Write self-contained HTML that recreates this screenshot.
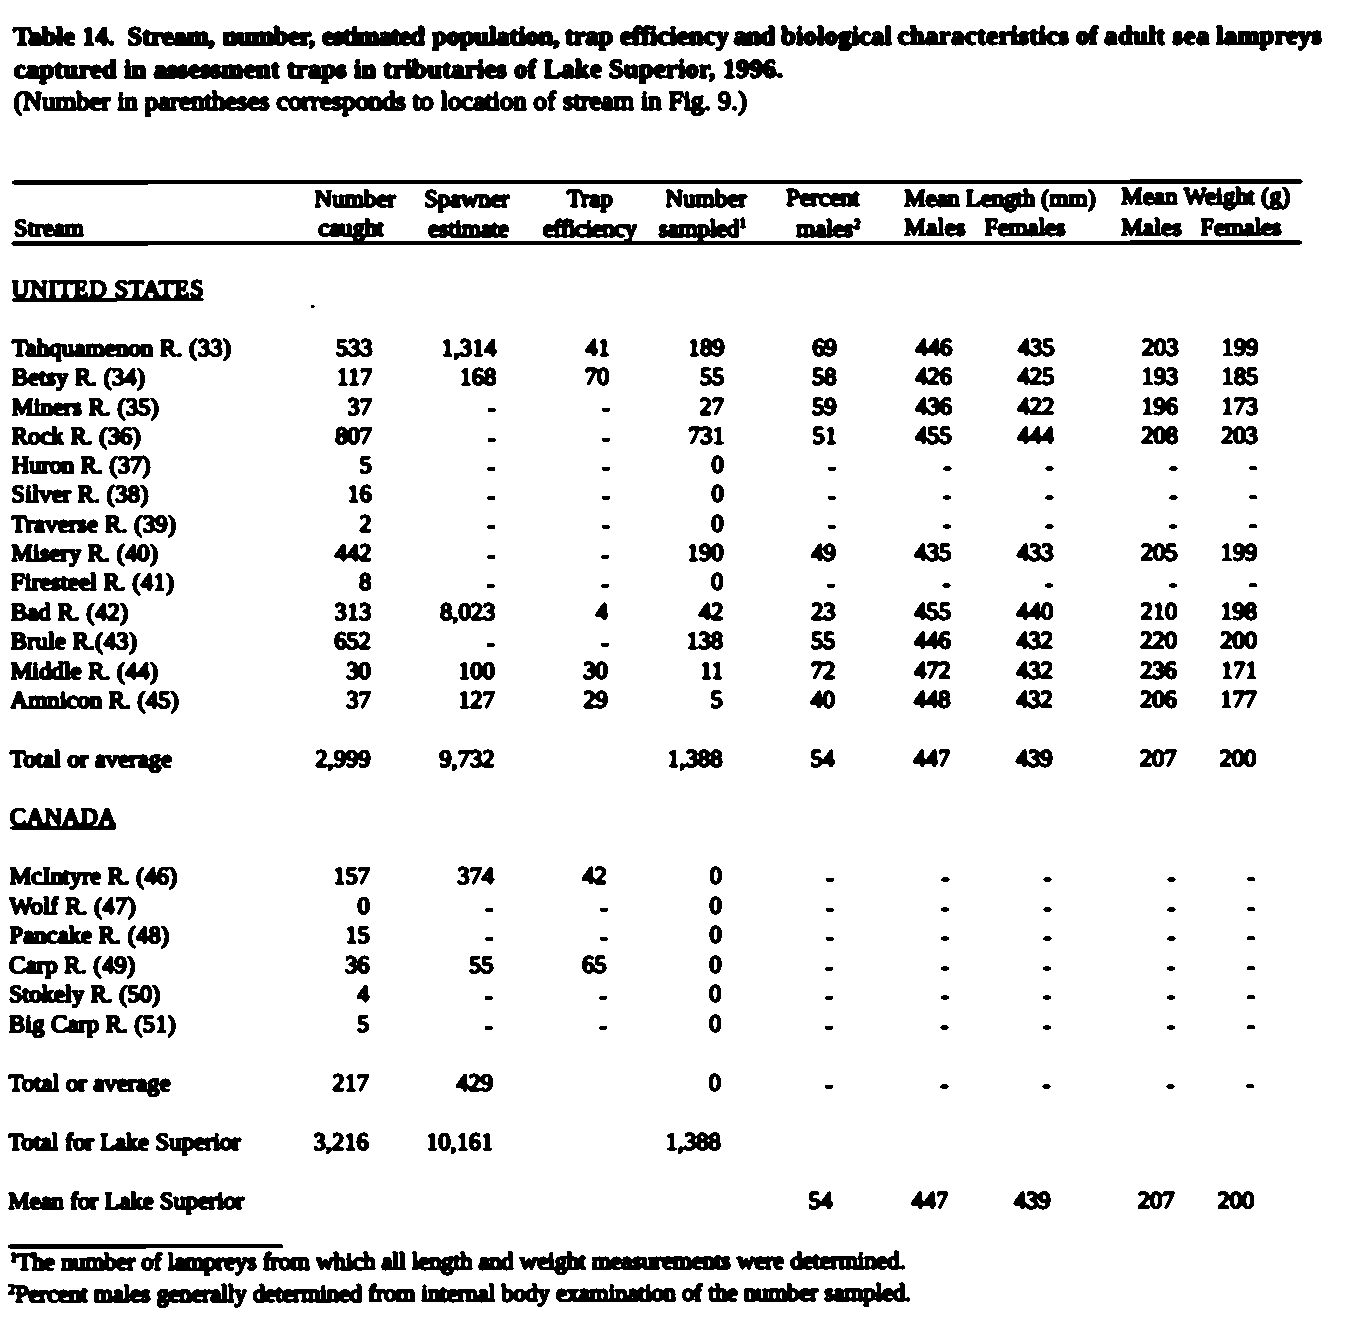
<!DOCTYPE html>
<html><head><meta charset="utf-8"><title>Table 14</title>
<style>
html,body{margin:0;padding:0;background:#fff;}
body{width:1367px;height:1337px;overflow:hidden;position:relative;}
#wrap{position:absolute;left:0;top:0;width:1367px;height:1337px;background:#fff;filter:url(#scan);overflow:hidden;}
#pg{position:absolute;left:0;top:0;width:1367px;height:1337px;transform-origin:0 0;transform:matrix(1,-0.0007,-0.0047,1,0,0);}
.x{position:absolute;white-space:pre;line-height:1;font-family:"Liberation Serif",serif;color:#000;}
.b{font-weight:normal;-webkit-text-stroke:1.1px #000;}
.t{font-weight:bold;-webkit-text-stroke:0.85px #000;}
.t3{font-weight:normal;-webkit-text-stroke:1.2px #000;}
sup{font-size:0.58em;line-height:0;vertical-align:baseline;position:relative;top:-0.58em;-webkit-text-stroke-width:1.1px;}
.rule{position:absolute;background:#000;}
</style></head>
<body><svg width="0" height="0" style="position:absolute"><filter id="scan" x="0" y="0" width="100%" height="100%" color-interpolation-filters="sRGB"><feGaussianBlur stdDeviation="0.9"/><feComponentTransfer><feFuncR type="discrete" tableValues="0 0 0 0 0 0 0 1 1 1"/><feFuncG type="discrete" tableValues="0 0 0 0 0 0 0 1 1 1"/><feFuncB type="discrete" tableValues="0 0 0 0 0 0 0 1 1 1"/></feComponentTransfer></filter></svg><div id="wrap"><div id="pg">
<div id="i0" class="x t" style="top:23.39px;font-size:26.5px;letter-spacing:-0.013px;left:13.14px;">Table</div>
<div id="i1" class="x t" style="top:23.37px;font-size:26.5px;letter-spacing:-0.108px;left:82.14px;">14.</div>
<div id="i2" class="x t" style="top:23.36px;font-size:26.5px;letter-spacing:-0.109px;left:127.54px;">Stream,</div>
<div id="i3" class="x t" style="top:23.33px;font-size:26.5px;letter-spacing:-0.218px;left:222.84px;">number,</div>
<div id="i4" class="x t" style="top:23.30px;font-size:26.5px;letter-spacing:-0.752px;left:322.24px;">estimated</div>
<div id="i5" class="x t" style="top:23.26px;font-size:26.5px;letter-spacing:-0.098px;left:432.14px;">population,</div>
<div id="i6" class="x t" style="top:23.22px;font-size:26.5px;letter-spacing:-0.023px;left:565.04px;">trap</div>
<div id="i7" class="x t" style="top:23.21px;font-size:26.5px;letter-spacing:0.199px;left:619.94px;">efficiency</div>
<div id="i8" class="x t" style="top:23.17px;font-size:26.5px;letter-spacing:-0.563px;left:733.84px;">and</div>
<div id="i9" class="x t" style="top:23.16px;font-size:26.5px;letter-spacing:0.206px;left:781.24px;">biological</div>
<div id="i10" class="x t" style="top:23.12px;font-size:26.5px;letter-spacing:0.457px;left:897.84px;">characteristics</div>
<div id="i11" class="x t" style="top:23.07px;font-size:26.5px;letter-spacing:0.031px;left:1075.94px;">of</div>
<div id="i12" class="x t" style="top:23.06px;font-size:26.5px;letter-spacing:0.497px;left:1104.44px;">adult</div>
<div id="i13" class="x t" style="top:23.04px;font-size:26.5px;letter-spacing:0.790px;left:1172.74px;">sea</div>
<div id="i14" class="x t" style="top:23.03px;font-size:26.5px;letter-spacing:0.252px;left:1216.24px;">lampreys</div>
<div id="i15" class="x t" style="top:56.19px;font-size:26.5px;letter-spacing:0.268px;left:14.20px;">captured in assessment traps in tributaries of Lake Superior, 1996.</div>
<div id="i16" class="x t3" style="top:88.42px;font-size:26.5px;letter-spacing:0.131px;left:14.32px;">(Number in parentheses corresponds to location of stream in Fig. 9.)</div>
<div id="i17" class="x b" style="top:216.44px;font-size:24.5px;letter-spacing:0.073px;left:15.17px;">Stream</div>
<div id="i18" class="x b" style="top:186.95px;font-size:24.5px;letter-spacing:0.235px;left:315.23px;">Number</div>
<div id="i19" class="x b" style="top:216.45px;font-size:24.5px;letter-spacing:0.052px;left:319.37px;">caught</div>
<div id="i20" class="x b" style="top:186.83px;font-size:24.5px;letter-spacing:-0.060px;left:425.13px;">Spawner</div>
<div id="i21" class="x b" style="top:216.53px;font-size:24.5px;letter-spacing:-0.081px;left:429.27px;">estimate</div>
<div id="i22" class="x b" style="top:186.73px;font-size:24.5px;letter-spacing:0.227px;left:567.63px;">Trap</div>
<div id="i23" class="x b" style="top:216.61px;font-size:24.5px;letter-spacing:-0.381px;left:543.97px;">efficiency</div>
<div id="i24" class="x b" style="top:187.30px;font-size:24.5px;letter-spacing:0.255px;left:666.13px;">Number</div>
<div id="i25" class="x b" style="top:216.69px;font-size:24.5px;letter-spacing:-0.131px;left:659.57px;">sampled<sup>1</sup></div>
<div id="i26" class="x b" style="top:186.38px;font-size:24.5px;letter-spacing:0.017px;left:787.03px;">Percent</div>
<div id="i27" class="x b" style="top:216.79px;font-size:24.5px;letter-spacing:0.004px;left:797.37px;">males<sup>2</sup></div>
<div id="i28" class="x b" style="top:186.76px;font-size:24.5px;letter-spacing:-0.020px;left:905.03px;">Mean Length (mm)</div>
<div id="i29" class="x b" style="top:216.06px;font-size:24.5px;letter-spacing:0.375px;left:905.16px;">Males</div>
<div id="i30" class="x b" style="top:216.12px;font-size:24.5px;letter-spacing:-0.064px;left:985.36px;">Females</div>
<div id="i31" class="x b" style="top:185.12px;font-size:24.5px;letter-spacing:0.204px;left:1122.02px;">Mean Weight (g)</div>
<div id="i32" class="x b" style="top:215.92px;font-size:24.5px;letter-spacing:0.250px;left:1122.16px;">Males</div>
<div id="i33" class="x b" style="top:215.97px;font-size:24.5px;letter-spacing:-0.064px;left:1201.46px;">Females</div>
<div id="i34" class="x b" style="top:276.91px;font-size:24.5px;letter-spacing:0.809px;left:12.85px;">UNITED STATES</div>
<div class="rule" style="left:12.90px;top:298.97px;width:192.20px;height:2.0px"></div>
<div id="i35" class="x b" style="top:804.96px;font-size:24.5px;letter-spacing:0.272px;left:13.65px;">CANADA</div>
<div class="rule" style="left:13.70px;top:827.02px;width:106.20px;height:2.0px"></div>
<div id="i36" class="x b" style="top:336.01px;font-size:24.5px;letter-spacing:0.278px;left:13.65px;">Tahquamenon R. (33)</div>
<div id="i37" class="x b" style="top:336.00px;font-size:24.5px;right:992.95px;">533</div>
<div id="i38" class="x b" style="top:336.00px;font-size:24.5px;right:868.95px;">1,314</div>
<div id="i39" class="x b" style="top:336.00px;font-size:24.5px;right:755.35px;">41</div>
<div id="i40" class="x b" style="top:336.00px;font-size:24.5px;right:640.95px;">189</div>
<div id="i41" class="x b" style="top:336.00px;font-size:24.5px;right:528.65px;">69</div>
<div id="i42" class="x b" style="top:336.00px;font-size:24.5px;right:413.15px;">446</div>
<div id="i43" class="x b" style="top:336.00px;font-size:24.5px;right:310.85px;">435</div>
<div id="i44" class="x b" style="top:336.00px;font-size:24.5px;right:186.95px;">203</div>
<div id="i45" class="x b" style="top:336.00px;font-size:24.5px;right:107.05px;">199</div>
<div id="i46" class="x b" style="top:365.28px;font-size:24.5px;letter-spacing:0.152px;left:13.65px;">Betsy R. (34)</div>
<div id="i47" class="x b" style="top:365.27px;font-size:24.5px;right:992.95px;">117</div>
<div id="i48" class="x b" style="top:365.27px;font-size:24.5px;right:868.95px;">168</div>
<div id="i49" class="x b" style="top:365.27px;font-size:24.5px;right:756.05px;">70</div>
<div id="i50" class="x b" style="top:365.27px;font-size:24.5px;right:640.95px;">55</div>
<div id="i51" class="x b" style="top:365.27px;font-size:24.5px;right:528.65px;">58</div>
<div id="i52" class="x b" style="top:365.27px;font-size:24.5px;right:413.15px;">426</div>
<div id="i53" class="x b" style="top:365.27px;font-size:24.5px;right:310.85px;">425</div>
<div id="i54" class="x b" style="top:365.27px;font-size:24.5px;right:186.95px;">193</div>
<div id="i55" class="x b" style="top:365.27px;font-size:24.5px;right:107.05px;">185</div>
<div id="i56" class="x b" style="top:394.56px;font-size:24.5px;letter-spacing:0.163px;left:13.65px;">Miners R. (35)</div>
<div id="i57" class="x b" style="top:394.55px;font-size:24.5px;right:992.95px;">37</div>
<div id="i58" class="x b" style="top:396.25px;font-size:24.5px;right:869.24px;">-</div>
<div id="i59" class="x b" style="top:396.25px;font-size:24.5px;right:754.84px;">-</div>
<div id="i60" class="x b" style="top:394.55px;font-size:24.5px;right:640.95px;">27</div>
<div id="i61" class="x b" style="top:394.55px;font-size:24.5px;right:528.65px;">59</div>
<div id="i62" class="x b" style="top:394.55px;font-size:24.5px;right:413.15px;">436</div>
<div id="i63" class="x b" style="top:394.55px;font-size:24.5px;right:310.85px;">422</div>
<div id="i64" class="x b" style="top:394.55px;font-size:24.5px;right:186.95px;">196</div>
<div id="i65" class="x b" style="top:394.55px;font-size:24.5px;right:107.05px;">173</div>
<div id="i66" class="x b" style="top:423.85px;font-size:24.5px;letter-spacing:0.166px;left:13.65px;">Rock R. (36)</div>
<div id="i67" class="x b" style="top:423.84px;font-size:24.5px;right:992.95px;">807</div>
<div id="i68" class="x b" style="top:425.54px;font-size:24.5px;right:869.24px;">-</div>
<div id="i69" class="x b" style="top:425.54px;font-size:24.5px;right:754.84px;">-</div>
<div id="i70" class="x b" style="top:423.84px;font-size:24.5px;right:640.25px;">731</div>
<div id="i71" class="x b" style="top:423.84px;font-size:24.5px;right:527.95px;">51</div>
<div id="i72" class="x b" style="top:423.84px;font-size:24.5px;right:413.15px;">455</div>
<div id="i73" class="x b" style="top:423.84px;font-size:24.5px;right:310.85px;">444</div>
<div id="i74" class="x b" style="top:423.84px;font-size:24.5px;right:186.95px;">208</div>
<div id="i75" class="x b" style="top:423.84px;font-size:24.5px;right:107.05px;">203</div>
<div id="i76" class="x b" style="top:453.15px;font-size:24.5px;letter-spacing:0.078px;left:13.65px;">Huron R. (37)</div>
<div id="i77" class="x b" style="top:453.14px;font-size:24.5px;right:992.95px;">5</div>
<div id="i78" class="x b" style="top:454.84px;font-size:24.5px;right:869.24px;">-</div>
<div id="i79" class="x b" style="top:454.84px;font-size:24.5px;right:754.84px;">-</div>
<div id="i80" class="x b" style="top:453.14px;font-size:24.5px;right:640.95px;">0</div>
<div id="i81" class="x b" style="top:454.84px;font-size:24.5px;right:528.94px;">-</div>
<div id="i82" class="x b" style="top:454.84px;font-size:24.5px;right:413.44px;">-</div>
<div id="i83" class="x b" style="top:454.84px;font-size:24.5px;right:311.14px;">-</div>
<div id="i84" class="x b" style="top:454.84px;font-size:24.5px;right:187.24px;">-</div>
<div id="i85" class="x b" style="top:454.84px;font-size:24.5px;right:107.34px;">-</div>
<div id="i86" class="x b" style="top:482.46px;font-size:24.5px;letter-spacing:0.235px;left:13.65px;">Silver R. (38)</div>
<div id="i87" class="x b" style="top:482.45px;font-size:24.5px;right:992.95px;">16</div>
<div id="i88" class="x b" style="top:484.15px;font-size:24.5px;right:869.24px;">-</div>
<div id="i89" class="x b" style="top:484.15px;font-size:24.5px;right:754.84px;">-</div>
<div id="i90" class="x b" style="top:482.45px;font-size:24.5px;right:640.95px;">0</div>
<div id="i91" class="x b" style="top:484.15px;font-size:24.5px;right:528.94px;">-</div>
<div id="i92" class="x b" style="top:484.15px;font-size:24.5px;right:413.44px;">-</div>
<div id="i93" class="x b" style="top:484.15px;font-size:24.5px;right:311.14px;">-</div>
<div id="i94" class="x b" style="top:484.15px;font-size:24.5px;right:187.24px;">-</div>
<div id="i95" class="x b" style="top:484.15px;font-size:24.5px;right:107.34px;">-</div>
<div id="i96" class="x b" style="top:511.78px;font-size:24.5px;letter-spacing:0.297px;left:13.65px;">Traverse R. (39)</div>
<div id="i97" class="x b" style="top:511.77px;font-size:24.5px;right:992.95px;">2</div>
<div id="i98" class="x b" style="top:513.47px;font-size:24.5px;right:869.24px;">-</div>
<div id="i99" class="x b" style="top:513.47px;font-size:24.5px;right:754.84px;">-</div>
<div id="i100" class="x b" style="top:511.77px;font-size:24.5px;right:640.95px;">0</div>
<div id="i101" class="x b" style="top:513.47px;font-size:24.5px;right:528.94px;">-</div>
<div id="i102" class="x b" style="top:513.47px;font-size:24.5px;right:413.44px;">-</div>
<div id="i103" class="x b" style="top:513.47px;font-size:24.5px;right:311.14px;">-</div>
<div id="i104" class="x b" style="top:513.47px;font-size:24.5px;right:187.24px;">-</div>
<div id="i105" class="x b" style="top:513.47px;font-size:24.5px;right:107.34px;">-</div>
<div id="i106" class="x b" style="top:541.11px;font-size:24.5px;letter-spacing:0.150px;left:13.65px;">Misery R. (40)</div>
<div id="i107" class="x b" style="top:541.10px;font-size:24.5px;right:992.95px;">442</div>
<div id="i108" class="x b" style="top:542.80px;font-size:24.5px;right:869.24px;">-</div>
<div id="i109" class="x b" style="top:542.80px;font-size:24.5px;right:754.84px;">-</div>
<div id="i110" class="x b" style="top:541.10px;font-size:24.5px;right:640.95px;">190</div>
<div id="i111" class="x b" style="top:541.10px;font-size:24.5px;right:528.65px;">49</div>
<div id="i112" class="x b" style="top:541.10px;font-size:24.5px;right:413.15px;">435</div>
<div id="i113" class="x b" style="top:541.10px;font-size:24.5px;right:310.85px;">433</div>
<div id="i114" class="x b" style="top:541.10px;font-size:24.5px;right:186.95px;">205</div>
<div id="i115" class="x b" style="top:541.10px;font-size:24.5px;right:107.05px;">199</div>
<div id="i116" class="x b" style="top:570.45px;font-size:24.5px;letter-spacing:0.194px;left:13.65px;">Firesteel R. (41)</div>
<div id="i117" class="x b" style="top:570.44px;font-size:24.5px;right:992.95px;">8</div>
<div id="i118" class="x b" style="top:572.14px;font-size:24.5px;right:869.24px;">-</div>
<div id="i119" class="x b" style="top:572.14px;font-size:24.5px;right:754.84px;">-</div>
<div id="i120" class="x b" style="top:570.44px;font-size:24.5px;right:640.95px;">0</div>
<div id="i121" class="x b" style="top:572.14px;font-size:24.5px;right:528.94px;">-</div>
<div id="i122" class="x b" style="top:572.14px;font-size:24.5px;right:413.44px;">-</div>
<div id="i123" class="x b" style="top:572.14px;font-size:24.5px;right:311.14px;">-</div>
<div id="i124" class="x b" style="top:572.14px;font-size:24.5px;right:187.24px;">-</div>
<div id="i125" class="x b" style="top:572.14px;font-size:24.5px;right:107.34px;">-</div>
<div id="i126" class="x b" style="top:599.80px;font-size:24.5px;letter-spacing:0.240px;left:13.65px;">Bad R. (42)</div>
<div id="i127" class="x b" style="top:599.79px;font-size:24.5px;right:992.95px;">313</div>
<div id="i128" class="x b" style="top:599.79px;font-size:24.5px;right:868.95px;">8,023</div>
<div id="i129" class="x b" style="top:599.79px;font-size:24.5px;right:756.05px;">4</div>
<div id="i130" class="x b" style="top:599.79px;font-size:24.5px;right:640.95px;">42</div>
<div id="i131" class="x b" style="top:599.79px;font-size:24.5px;right:528.65px;">23</div>
<div id="i132" class="x b" style="top:599.79px;font-size:24.5px;right:413.15px;">455</div>
<div id="i133" class="x b" style="top:599.79px;font-size:24.5px;right:310.85px;">440</div>
<div id="i134" class="x b" style="top:599.79px;font-size:24.5px;right:186.95px;">210</div>
<div id="i135" class="x b" style="top:599.79px;font-size:24.5px;right:107.05px;">198</div>
<div id="i136" class="x b" style="top:629.16px;font-size:24.5px;letter-spacing:0.214px;left:13.65px;">Brule R.(43)</div>
<div id="i137" class="x b" style="top:629.15px;font-size:24.5px;right:992.95px;">652</div>
<div id="i138" class="x b" style="top:630.85px;font-size:24.5px;right:869.24px;">-</div>
<div id="i139" class="x b" style="top:630.86px;font-size:24.5px;right:754.84px;">-</div>
<div id="i140" class="x b" style="top:629.15px;font-size:24.5px;right:640.95px;">138</div>
<div id="i141" class="x b" style="top:629.15px;font-size:24.5px;right:528.65px;">55</div>
<div id="i142" class="x b" style="top:629.15px;font-size:24.5px;right:413.15px;">446</div>
<div id="i143" class="x b" style="top:629.15px;font-size:24.5px;right:310.85px;">432</div>
<div id="i144" class="x b" style="top:629.15px;font-size:24.5px;right:186.95px;">220</div>
<div id="i145" class="x b" style="top:629.15px;font-size:24.5px;right:107.05px;">200</div>
<div id="i146" class="x b" style="top:658.53px;font-size:24.5px;letter-spacing:0.096px;left:13.65px;">Middle R. (44)</div>
<div id="i147" class="x b" style="top:658.53px;font-size:24.5px;right:992.95px;">30</div>
<div id="i148" class="x b" style="top:658.53px;font-size:24.5px;right:868.95px;">100</div>
<div id="i149" class="x b" style="top:658.53px;font-size:24.5px;right:756.05px;">30</div>
<div id="i150" class="x b" style="top:658.53px;font-size:24.5px;right:640.25px;">11</div>
<div id="i151" class="x b" style="top:658.53px;font-size:24.5px;right:528.65px;">72</div>
<div id="i152" class="x b" style="top:658.53px;font-size:24.5px;right:413.15px;">472</div>
<div id="i153" class="x b" style="top:658.53px;font-size:24.5px;right:310.85px;">432</div>
<div id="i154" class="x b" style="top:658.53px;font-size:24.5px;right:186.95px;">236</div>
<div id="i155" class="x b" style="top:658.53px;font-size:24.5px;right:106.35px;">171</div>
<div id="i156" class="x b" style="top:687.92px;font-size:24.5px;letter-spacing:0.121px;left:13.65px;">Amnicon R. (45)</div>
<div id="i157" class="x b" style="top:687.91px;font-size:24.5px;right:992.95px;">37</div>
<div id="i158" class="x b" style="top:687.91px;font-size:24.5px;right:868.95px;">127</div>
<div id="i159" class="x b" style="top:687.91px;font-size:24.5px;right:756.05px;">29</div>
<div id="i160" class="x b" style="top:687.91px;font-size:24.5px;right:640.95px;">5</div>
<div id="i161" class="x b" style="top:687.91px;font-size:24.5px;right:528.65px;">40</div>
<div id="i162" class="x b" style="top:687.91px;font-size:24.5px;right:413.15px;">448</div>
<div id="i163" class="x b" style="top:687.91px;font-size:24.5px;right:310.85px;">432</div>
<div id="i164" class="x b" style="top:687.91px;font-size:24.5px;right:186.95px;">206</div>
<div id="i165" class="x b" style="top:687.91px;font-size:24.5px;right:107.05px;">177</div>
<div id="i166" class="x b" style="top:746.72px;font-size:24.5px;letter-spacing:0.223px;left:13.65px;">Total or average</div>
<div id="i167" class="x b" style="top:746.71px;font-size:24.5px;right:992.95px;">2,999</div>
<div id="i168" class="x b" style="top:746.71px;font-size:24.5px;right:868.95px;">9,732</div>
<div id="i169" class="x b" style="top:746.71px;font-size:24.5px;right:640.95px;">1,388</div>
<div id="i170" class="x b" style="top:746.71px;font-size:24.5px;right:528.65px;">54</div>
<div id="i171" class="x b" style="top:746.71px;font-size:24.5px;right:413.15px;">447</div>
<div id="i172" class="x b" style="top:746.71px;font-size:24.5px;right:310.85px;">439</div>
<div id="i173" class="x b" style="top:746.71px;font-size:24.5px;right:186.95px;">207</div>
<div id="i174" class="x b" style="top:746.71px;font-size:24.5px;right:107.05px;">200</div>
<div id="i175" class="x b" style="top:864.44px;font-size:24.5px;letter-spacing:0.071px;left:13.65px;">McIntyre R. (46)</div>
<div id="i176" class="x b" style="top:864.43px;font-size:24.5px;right:992.95px;">157</div>
<div id="i177" class="x b" style="top:864.43px;font-size:24.5px;right:868.95px;">374</div>
<div id="i178" class="x b" style="top:864.43px;font-size:24.5px;right:756.05px;">42</div>
<div id="i179" class="x b" style="top:864.43px;font-size:24.5px;right:640.95px;">0</div>
<div id="i180" class="x b" style="top:866.13px;font-size:24.5px;right:528.94px;">-</div>
<div id="i181" class="x b" style="top:866.13px;font-size:24.5px;right:413.44px;">-</div>
<div id="i182" class="x b" style="top:866.13px;font-size:24.5px;right:311.14px;">-</div>
<div id="i183" class="x b" style="top:866.13px;font-size:24.5px;right:187.24px;">-</div>
<div id="i184" class="x b" style="top:866.13px;font-size:24.5px;right:107.34px;">-</div>
<div id="i185" class="x b" style="top:893.89px;font-size:24.5px;letter-spacing:0.214px;left:13.65px;">Wolf R. (47)</div>
<div id="i186" class="x b" style="top:893.89px;font-size:24.5px;right:992.95px;">0</div>
<div id="i187" class="x b" style="top:895.59px;font-size:24.5px;right:869.24px;">-</div>
<div id="i188" class="x b" style="top:895.59px;font-size:24.5px;right:754.84px;">-</div>
<div id="i189" class="x b" style="top:893.89px;font-size:24.5px;right:640.95px;">0</div>
<div id="i190" class="x b" style="top:895.59px;font-size:24.5px;right:528.94px;">-</div>
<div id="i191" class="x b" style="top:895.59px;font-size:24.5px;right:413.44px;">-</div>
<div id="i192" class="x b" style="top:895.59px;font-size:24.5px;right:311.14px;">-</div>
<div id="i193" class="x b" style="top:895.59px;font-size:24.5px;right:187.24px;">-</div>
<div id="i194" class="x b" style="top:895.59px;font-size:24.5px;right:107.34px;">-</div>
<div id="i195" class="x b" style="top:923.36px;font-size:24.5px;letter-spacing:0.200px;left:13.65px;">Pancake R. (48)</div>
<div id="i196" class="x b" style="top:923.35px;font-size:24.5px;right:992.95px;">15</div>
<div id="i197" class="x b" style="top:925.05px;font-size:24.5px;right:869.24px;">-</div>
<div id="i198" class="x b" style="top:925.06px;font-size:24.5px;right:754.84px;">-</div>
<div id="i199" class="x b" style="top:923.35px;font-size:24.5px;right:640.95px;">0</div>
<div id="i200" class="x b" style="top:925.05px;font-size:24.5px;right:528.94px;">-</div>
<div id="i201" class="x b" style="top:925.05px;font-size:24.5px;right:413.44px;">-</div>
<div id="i202" class="x b" style="top:925.05px;font-size:24.5px;right:311.14px;">-</div>
<div id="i203" class="x b" style="top:925.05px;font-size:24.5px;right:187.24px;">-</div>
<div id="i204" class="x b" style="top:925.05px;font-size:24.5px;right:107.34px;">-</div>
<div id="i205" class="x b" style="top:952.84px;font-size:24.5px;letter-spacing:0.259px;left:13.65px;">Carp R. (49)</div>
<div id="i206" class="x b" style="top:952.83px;font-size:24.5px;right:992.95px;">36</div>
<div id="i207" class="x b" style="top:952.83px;font-size:24.5px;right:868.95px;">55</div>
<div id="i208" class="x b" style="top:952.83px;font-size:24.5px;right:756.05px;">65</div>
<div id="i209" class="x b" style="top:952.83px;font-size:24.5px;right:640.95px;">0</div>
<div id="i210" class="x b" style="top:954.53px;font-size:24.5px;right:528.94px;">-</div>
<div id="i211" class="x b" style="top:954.53px;font-size:24.5px;right:413.44px;">-</div>
<div id="i212" class="x b" style="top:954.53px;font-size:24.5px;right:311.14px;">-</div>
<div id="i213" class="x b" style="top:954.53px;font-size:24.5px;right:187.24px;">-</div>
<div id="i214" class="x b" style="top:954.53px;font-size:24.5px;right:107.34px;">-</div>
<div id="i215" class="x b" style="top:982.33px;font-size:24.5px;letter-spacing:0.064px;left:13.65px;">Stokely R. (50)</div>
<div id="i216" class="x b" style="top:982.32px;font-size:24.5px;right:992.95px;">4</div>
<div id="i217" class="x b" style="top:984.02px;font-size:24.5px;right:869.24px;">-</div>
<div id="i218" class="x b" style="top:984.02px;font-size:24.5px;right:754.84px;">-</div>
<div id="i219" class="x b" style="top:982.32px;font-size:24.5px;right:640.95px;">0</div>
<div id="i220" class="x b" style="top:984.02px;font-size:24.5px;right:528.94px;">-</div>
<div id="i221" class="x b" style="top:984.02px;font-size:24.5px;right:413.44px;">-</div>
<div id="i222" class="x b" style="top:984.02px;font-size:24.5px;right:311.14px;">-</div>
<div id="i223" class="x b" style="top:984.02px;font-size:24.5px;right:187.24px;">-</div>
<div id="i224" class="x b" style="top:984.02px;font-size:24.5px;right:107.34px;">-</div>
<div id="i225" class="x b" style="top:1011.83px;font-size:24.5px;letter-spacing:0.150px;left:13.65px;">Big Carp R. (51)</div>
<div id="i226" class="x b" style="top:1011.82px;font-size:24.5px;right:992.95px;">5</div>
<div id="i227" class="x b" style="top:1013.52px;font-size:24.5px;right:869.24px;">-</div>
<div id="i228" class="x b" style="top:1013.52px;font-size:24.5px;right:754.84px;">-</div>
<div id="i229" class="x b" style="top:1011.82px;font-size:24.5px;right:640.95px;">0</div>
<div id="i230" class="x b" style="top:1013.52px;font-size:24.5px;right:528.94px;">-</div>
<div id="i231" class="x b" style="top:1013.52px;font-size:24.5px;right:413.44px;">-</div>
<div id="i232" class="x b" style="top:1013.52px;font-size:24.5px;right:311.14px;">-</div>
<div id="i233" class="x b" style="top:1013.52px;font-size:24.5px;right:187.24px;">-</div>
<div id="i234" class="x b" style="top:1013.52px;font-size:24.5px;right:107.34px;">-</div>
<div id="i235" class="x b" style="top:1070.85px;font-size:24.5px;letter-spacing:0.223px;left:13.65px;">Total or average</div>
<div id="i236" class="x b" style="top:1070.85px;font-size:24.5px;right:992.95px;">217</div>
<div id="i237" class="x b" style="top:1070.85px;font-size:24.5px;right:868.95px;">429</div>
<div id="i238" class="x b" style="top:1070.85px;font-size:24.5px;right:640.95px;">0</div>
<div id="i239" class="x b" style="top:1072.55px;font-size:24.5px;right:528.94px;">-</div>
<div id="i240" class="x b" style="top:1072.55px;font-size:24.5px;right:413.44px;">-</div>
<div id="i241" class="x b" style="top:1072.55px;font-size:24.5px;right:311.14px;">-</div>
<div id="i242" class="x b" style="top:1072.55px;font-size:24.5px;right:187.24px;">-</div>
<div id="i243" class="x b" style="top:1072.55px;font-size:24.5px;right:107.34px;">-</div>
<div id="i244" class="x b" style="top:1129.92px;font-size:24.5px;letter-spacing:0.095px;left:13.65px;">Total for Lake Superior</div>
<div id="i245" class="x b" style="top:1129.92px;font-size:24.5px;right:992.95px;">3,216</div>
<div id="i246" class="x b" style="top:1129.92px;font-size:24.5px;right:868.25px;">10,161</div>
<div id="i247" class="x b" style="top:1129.92px;font-size:24.5px;right:640.95px;">1,388</div>
<div id="i248" class="x b" style="top:1189.04px;font-size:24.5px;letter-spacing:0.007px;left:13.65px;">Mean for Lake Superior</div>
<div id="i249" class="x b" style="top:1189.03px;font-size:24.5px;right:528.65px;">54</div>
<div id="i250" class="x b" style="top:1189.03px;font-size:24.5px;right:413.15px;">447</div>
<div id="i251" class="x b" style="top:1189.03px;font-size:24.5px;right:310.85px;">439</div>
<div id="i252" class="x b" style="top:1189.03px;font-size:24.5px;right:186.95px;">207</div>
<div id="i253" class="x b" style="top:1189.03px;font-size:24.5px;right:107.05px;">200</div>
<div id="i254" class="x b" style="top:1250.24px;font-size:24.5px;letter-spacing:-0.089px;transform:rotate(-0.06deg);transform-origin:0 85%;left:16.03px;"><sup>1</sup>The number of lampreys from which all length and weight measurements were determined.</div>
<div id="i255" class="x b" style="top:1282.04px;font-size:24.5px;letter-spacing:-0.098px;transform:rotate(-0.06deg);transform-origin:0 85%;left:14.17px;"><sup>2</sup>Percent males generally determined from internal body examination of the number sampled.</div>
<div class="rule" style="left:13.05px;top:180.61px;width:1289.80px;height:2.95px"></div>
<div class="rule" style="left:13.34px;top:241.61px;width:1289.80px;height:3.2px"></div>
<div class="rule" style="left:14.05px;top:1244.61px;width:275.20px;height:2.95px"></div>
<div class="rule" style="left:311.94px;top:306.42px;width:4.00px;height:1.2px"></div>
<div class="rule" style="left:597.98px;top:421.12px;width:4.00px;height:1.2px"></div>
</div></div></body></html>
